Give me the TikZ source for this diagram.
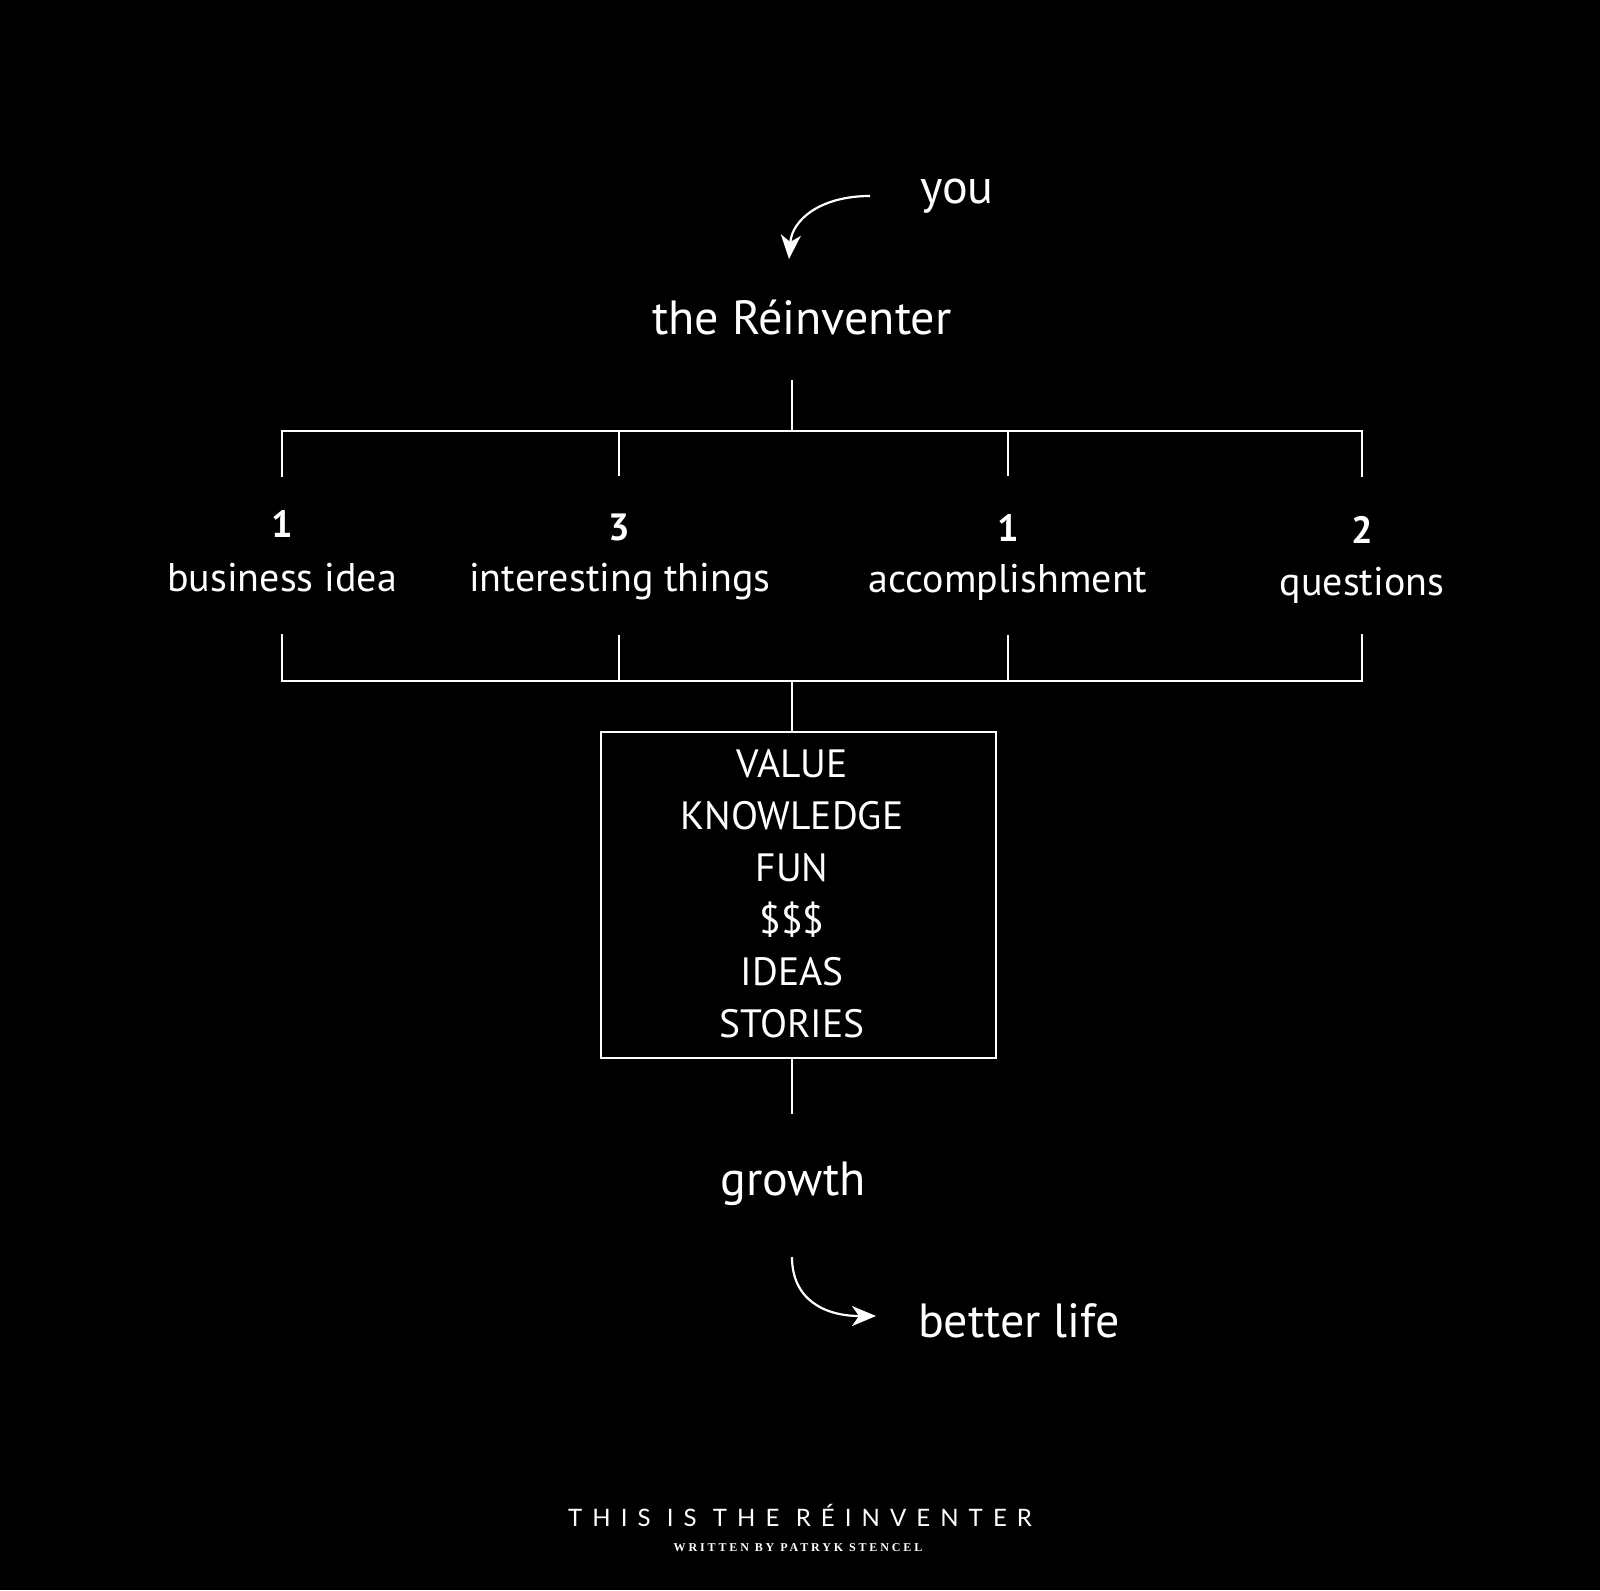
\documentclass[tikz,border=0pt]{standalone}
\usepackage{fontspec}
\setmainfont{PT Sans}
\newfontfamily\footfont[LetterSpace=42]{Lato}
\newfontfamily\subfont[LetterSpace=24]{Liberation Serif}
\usetikzlibrary{arrows.meta}
\begin{document}
\begin{tikzpicture}[x=1pt,y=-1pt,
  line/.style={draw=white,line width=2pt},
  curvearrow/.style={draw=white,line width=2.2pt,-{Stealth[length=24pt,width=20pt,inset=7pt]}},
  lbl/.style={text=white,inner sep=0pt,anchor=center,font=\fontsize{40}{44}\selectfont},
  num/.style={text=white,inner sep=0pt,anchor=center,font=\fontsize{38}{42}\selectfont\bfseries},
  big/.style={text=white,inner sep=0pt,anchor=center,font=\fontsize{48}{54}\selectfont},
  boxtext/.style={text=white,inner sep=0pt,align=center,font=\fontsize{39.5}{52}\selectfont}
]
\fill[black] (0,0) rectangle (1600,1590);
\useasboundingbox (0,0) rectangle (1600,1590);

% top
\node[big] (you) at (957,196) {you};
\coordinate (ya) at (870,196);
\coordinate (yb) at (789,259);
\draw[curvearrow] (ya) .. controls (820,196) and (792,220) .. (yb);
\node[big] (rein) at (802,318) {the Réinventer};

% upper bracket
\coordinate (t0) at (792,380);
\coordinate (t1) at (792,431);
\foreach \n/\x in {1/282,2/619,3/1008,4/1362}{
  \coordinate (u\n) at (\x,431);
  \coordinate (v\n) at (\x,476);
  \coordinate (w\n) at (\x,635);
  \coordinate (z\n) at (\x,681);
}
\draw[line] (t0) -- (t1);
\draw[line,line cap=rect] (v1) -- (u1) -- (u4) -- (v4);
\draw[line] (u2) -- (v2);
\draw[line] (u3) -- (v3);

% items
\node[num] (n1) at (282,524) {1};
\node[num] (n2) at (619,527) {3};
\node[num] (n3) at (1008,528) {1};
\node[num] (n4) at (1362,530) {2};
\node[lbl] (l1) at (282,578) {business idea};
\node[lbl] (l2) at (620,582) {interesting things};
\node[lbl] (l3) at (1008,582) {accomplishment};
\node[lbl] (l4) at (1362,585) {questions};

% lower bracket
\draw[line,line cap=rect] (w1) -- (z1) -- (z4) -- (w4);
\draw[line] (w2) -- (z2);
\draw[line] (w3) -- (z3);

% box
\node[draw=white,line width=2pt,minimum width=395pt,minimum height=326pt,inner sep=0pt] (box) at (798.5,895) {};
\node[boxtext] (boxt) at (792,894) {VALUE\\KNOWLEDGE\\FUN\\\$\$\$\\IDEAS\\STORIES};
\coordinate (b0) at (792,681);
\coordinate (b1) at (792,1114);
\draw[line] (b0) -- (box.north -| b0);
\draw[line] (box.south -| b1) -- (b1);

% bottom
\node[big] (growth) at (793,1184) {growth};
\coordinate (ga) at (792,1257);
\coordinate (gb) at (876,1316);
\draw[curvearrow] (ga) .. controls (792,1300) and (825,1316) .. (gb);
\node[big] (better) at (1019,1321) {better life};

% footer
\node[text=white,inner sep=0pt,font=\footfont\fontsize{24}{28}\selectfont] (foot) at (800,1515) {THIS IS THE RÉINVENTER};
\node[text=white,inner sep=0pt,font=\subfont\fontsize{12}{14}\selectfont\bfseries] (sub) at (798,1548) {WRITTEN BY PATRYK STENCEL};
\end{tikzpicture}
\end{document}
